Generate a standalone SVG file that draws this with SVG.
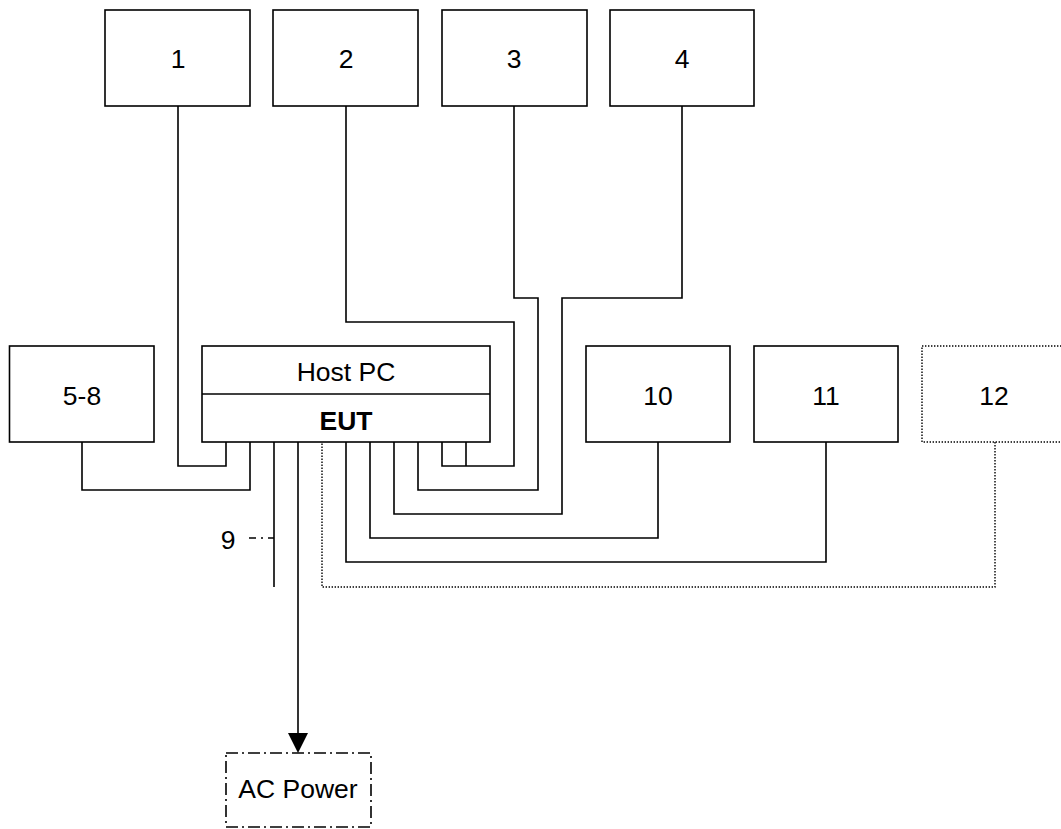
<svg xmlns="http://www.w3.org/2000/svg" width="1061" height="829" viewBox="0 0 1061 829">
<style>
.box{fill:#fff;stroke:#000;stroke-width:1.6}
.dot{fill:#fff;stroke:#000;stroke-width:1.4;stroke-dasharray:1.4 1.6}
.dd{fill:none;stroke:#000;stroke-width:1.6;stroke-dasharray:12 4 2 4}
.t{font-family:"Liberation Sans",Arial,sans-serif;font-size:26.5px;text-anchor:middle;fill:#000}
.b{font-weight:bold}
.w{fill:none;stroke:#000;stroke-width:1.6}
.wd{fill:none;stroke:#000;stroke-width:1.4;stroke-dasharray:1.4 1.6}
</style>
<rect width="1061" height="829" fill="#fff"/>
<g id="connectors">
<path class="w" d="M178 106V466H226V442"/>
<path class="w" d="M346 106V322H514V466H442V442M466 442V466"/>
<path class="w" d="M514 106V298H538V490H418V442"/>
<path class="w" d="M682 106V298H562V514H394V442"/>
<path class="w" d="M82 442V490H250V442"/>
<path class="w" d="M658 442V538H370V442"/>
<path class="w" d="M826 442V562H346V442"/>
<path class="wd" d="M995 442V587H322V442"/>
<path class="w" d="M274 442V587"/>
<path fill="none" stroke="#000" stroke-width="1.4" stroke-dasharray="7 5 2 5" d="M249 538H274"/>
<path class="w" d="M298 442V735"/>
<polygon points="288,733 308,733 298,753" fill="#000"/>
</g>
<g id="n1"><rect class="box" x="105" y="10" width="145" height="96"/><text class="t" x="178" y="68">1</text></g>
<g id="n2"><rect class="box" x="273" y="10" width="145" height="96"/><text class="t" x="346" y="68">2</text></g>
<g id="n3"><rect class="box" x="442" y="10" width="145" height="96"/><text class="t" x="514" y="68">3</text></g>
<g id="n4"><rect class="box" x="610" y="10" width="144" height="96"/><text class="t" x="682" y="68">4</text></g>
<g id="n58"><rect class="box" x="9.5" y="346" width="144.5" height="96"/><text class="t" x="82" y="405">5-8</text></g>
<g id="eut"><rect class="box" x="202" y="346" width="288" height="96"/><line x1="202" y1="394" x2="490" y2="394" stroke="#000" stroke-width="1.6"/><text class="t" x="346" y="381">Host PC</text><text class="t b" x="346" y="430">EUT</text></g>
<g id="n10"><rect class="box" x="586" y="346" width="144" height="96"/><text class="t" x="658" y="405">10</text></g>
<g id="n11"><rect class="box" x="754" y="346" width="144" height="96"/><text class="t" x="826" y="405">11</text></g>
<g id="n12"><rect class="dot" x="922" y="346" width="144" height="96"/><text class="t" x="994" y="405">12</text></g>
<g id="n9"><text class="t" x="228" y="549">9</text></g>
<g id="ac"><rect class="dd" x="226" y="753" width="145" height="74"/><text class="t" x="298" y="798">AC Power</text></g>
</svg>
